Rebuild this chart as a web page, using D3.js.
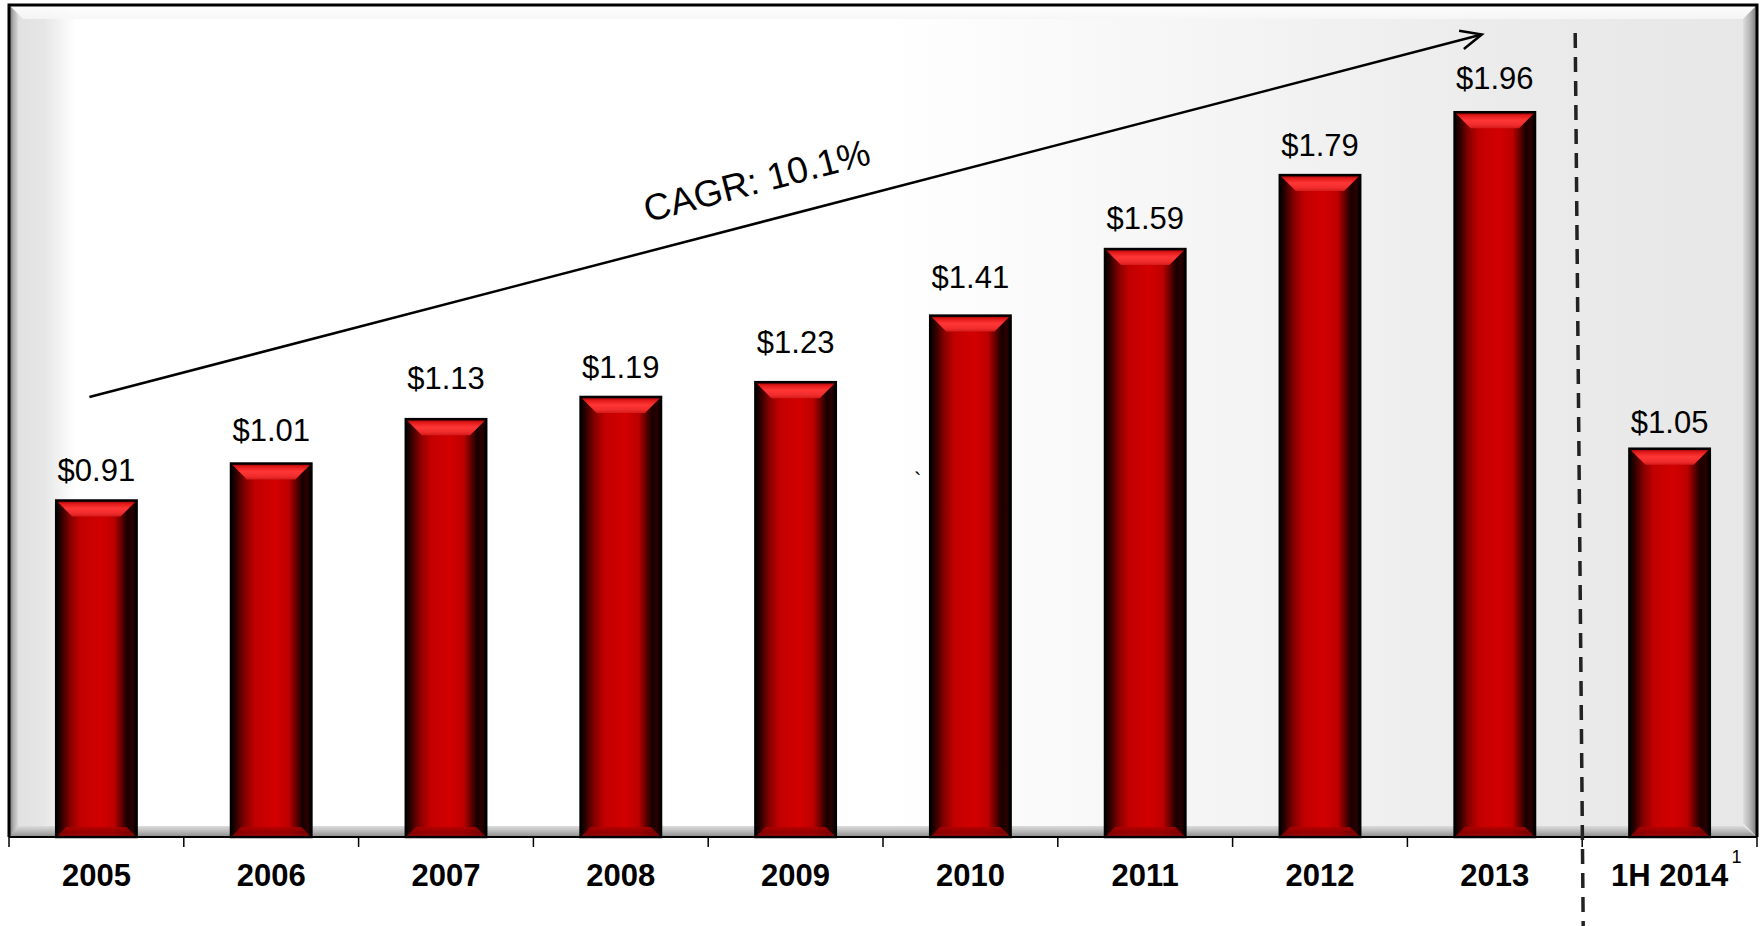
<!DOCTYPE html>
<html>
<head>
<meta charset="utf-8">
<script src="https://cdn.jsdelivr.net/npm/d3@7/dist/d3.min.js"></script>
<style>
  html, body { margin: 0; padding: 0; background: #ffffff; }
  svg { display: block; }
  text { font-family: "Liberation Sans", Arial, sans-serif; fill: #000; }
</style>
</head>
<body>
<div id="chart"></div>
<script>
// Dividends per share, annual plus first half of 2014
const categories = ["2005", "2006", "2007", "2008", "2009", "2010", "2011", "2012", "2013", "1H 2014"];
const values = [0.91, 1.01, 1.13, 1.19, 1.23, 1.41, 1.59, 1.79, 1.96, 1.05];
const valueLabels = ["$0.91", "$1.01", "$1.13", "$1.19", "$1.23", "$1.41", "$1.59", "$1.79", "$1.96", "$1.05"];
const yDomain = [0, 2.25];
const cagrLabel = "CAGR: 10.1%";
const footnoteMark = "1";

// layout: how far each value label sits above its bar (px)
const labelLift = [20, 23, 30, 19, 29, 28, 20, 19, 23, 16];

const W = 1763, H = 926;
const plot = { left: 9, right: 1757, top: 5, bottom: 837 };

const svg = d3.select("#chart").append("svg")
  .attr("width", W).attr("height", H);

const x = d3.scaleBand().domain(categories).range([plot.left, plot.right]).padding(0);
const y = d3.scaleLinear().domain(yDomain).range([plot.bottom, plot.top]);

const defs = svg.append("defs");

function linGrad(id, horizontal, stops) {
  const g = defs.append("linearGradient").attr("id", id)
    .attr("x1", 0).attr("y1", 0)
    .attr("x2", horizontal ? 1 : 0).attr("y2", horizontal ? 0 : 1);
  stops.forEach(([o, c]) => g.append("stop").attr("offset", o).attr("stop-color", c));
  return g;
}

// plot background: grey at the sides, white in the middle
linGrad("bgFill", true, [
  [0, "#e0e0e0"], [0.02, "#e6e6e6"], [0.03, "#f4f4f4"], [0.038, "#ffffff"],
  [0.5, "#ffffff"], [0.72, "#f3f3f3"], [0.86, "#ebebeb"], [1, "#e7e7e7"]
]);
linGrad("bevelTop", false, [[0, "#ffffff"], [1, "#f6f6f6"]]);
linGrad("bevelLeft", true, [[0, "#6e6e6e"], [0.5, "#b0b0b0"], [1, "#d8d8d8"]]);
linGrad("bevelRight", true, [[0, "#dedede"], [0.5, "#b4b4b4"], [1, "#777777"]]);
linGrad("bevelBottom", false, [[0, "#dcdcdc"], [0.5, "#b8b8b8"], [1, "#8c8c8c"]]);

// bar shading
linGrad("barBody", true, [
  [0, "#080000"], [0.06, "#2a0000"], [0.17, "#840000"], [0.3, "#c20000"],
  [0.55, "#d30000"], [0.72, "#bd0000"], [0.82, "#5a0000"], [0.89, "#160000"],
  [0.95, "#2c0000"], [1, "#000000"]
]);
linGrad("barTop", false, [
  [0, "#8a0000"], [0.2, "#e01818"], [0.5, "#ff3636"], [0.8, "#f02c2c"], [1, "#d41a1a"]
]);
linGrad("barBottom", false, [
  [0, "#b00000"], [0.6, "#8a0000"], [1, "#c01010"]
]);

// ---- plot frame with bevelled edges ----
const frame = svg.append("g");
const fw = plot.right - plot.left, fh = plot.bottom - plot.top, bv = 14;
frame.append("rect")
  .attr("x", plot.left).attr("y", plot.top).attr("width", fw).attr("height", fh)
  .attr("fill", "url(#bgFill)");
const L = plot.left, R = plot.right, T = plot.top, B = plot.bottom;
const trap = pts => pts.map(p => p.join(",")).join(" ");
frame.append("polygon").attr("points", trap([[L, T], [R, T], [R - bv, T + bv], [L + bv, T + bv]]))
  .attr("fill", "url(#bevelTop)").attr("opacity", 0.9);
frame.append("polygon").attr("points", trap([[L, T], [L + 9, T + 9], [L + 9, B - 9], [L, B]]))
  .attr("fill", "url(#bevelLeft)");
frame.append("polygon").attr("points", trap([[R, T], [R, B], [R - bv, B - bv], [R - bv, T + bv]]))
  .attr("fill", "url(#bevelRight)");
frame.append("polygon").attr("points", trap([[L, B], [R, B], [R - bv, B - 11], [L + 9, B - 11]]))
  .attr("fill", "url(#bevelBottom)");
frame.append("path")
  .attr("d", `M${L},${B} L${L},${T} L${R},${T} L${R},${B}`)
  .attr("fill", "none").attr("stroke", "#000").attr("stroke-width", 3);

// ---- bars ----
const barW = x.bandwidth() * 0.46;
const bb = 16;
const bars = svg.append("g").selectAll("g").data(categories).join("g");
bars.each(function (c, i) {
  const g = d3.select(this);
  const x0 = x(c) + (x.bandwidth() - barW) / 2, x1 = x0 + barW;
  const y0 = y(values[i]), y1 = y(0);
  g.append("rect").attr("x", x0).attr("y", y0).attr("width", barW).attr("height", y1 - y0)
    .attr("fill", "url(#barBody)");
  g.append("polygon").attr("points", trap([[x0, y0], [x1, y0], [x1 - bb, y0 + bb], [x0 + bb, y0 + bb]]))
    .attr("fill", "url(#barTop)");
  g.append("polygon").attr("points", trap([[x0, y1], [x1, y1], [x1 - 10, y1 - 10], [x0 + 10, y1 - 10]]))
    .attr("fill", "url(#barBottom)").attr("opacity", 0.85);
  g.append("rect").attr("x", x0).attr("y", y0).attr("width", barW).attr("height", y1 - y0)
    .attr("fill", "none").attr("stroke", "#000").attr("stroke-width", 2.5);
  g.append("text")
    .attr("x", x0 + barW / 2).attr("y", y0 - labelLift[i])
    .attr("text-anchor", "middle").attr("font-size", 31)
    .text(valueLabels[i]);
});

// ---- category axis ----
const axisG = svg.append("g");
axisG.append("line")
  .attr("x1", plot.left).attr("x2", plot.right)
  .attr("y1", plot.bottom).attr("y2", plot.bottom)
  .attr("stroke", "#000").attr("stroke-width", 2);
const tickXs = categories.map(c => x(c)).concat([x(categories[categories.length - 1]) + x.bandwidth()]);
axisG.selectAll("line.tick").data(tickXs).join("line").attr("class", "tick")
  .attr("x1", d => d).attr("x2", d => d)
  .attr("y1", plot.bottom).attr("y2", plot.bottom + 10)
  .attr("stroke", "#000").attr("stroke-width", 1.5);
axisG.selectAll("text.cat").data(categories).join("text").attr("class", "cat")
  .attr("x", d => x(d) + x.bandwidth() / 2)
  .attr("y", 886)
  .attr("text-anchor", "middle")
  .attr("font-size", 31).attr("font-weight", "bold")
  .text(d => d);
// footnote marker on the half-year label
const lastCat = categories[categories.length - 1];
svg.append("text")
  .attr("x", x(lastCat) + x.bandwidth() / 2 + 62).attr("y", 863)
  .attr("font-size", 18).text(footnoteMark);

// ---- separator between full years and the half year ----
const sepX = x(lastCat);
svg.append("line")
  .attr("x1", sepX - 7).attr("y1", 33).attr("x2", sepX + 1).attr("y2", H)
  .attr("stroke", "#222").attr("stroke-width", 3.5)
  .attr("stroke-dasharray", "15,9");

// ---- growth arrow and CAGR annotation ----
const a0 = [x(categories[0]) + x.bandwidth() / 2 - 7, y(1.19)];
const a1 = [x(categories[8]) + x.bandwidth() / 2 - 13, y(2.17)];
svg.append("line")
  .attr("x1", a0[0]).attr("y1", a0[1]).attr("x2", a1[0]).attr("y2", a1[1])
  .attr("stroke", "#000").attr("stroke-width", 2.5);
const ang = Math.atan2(a1[1] - a0[1], a1[0] - a0[0]);
const head = 23, spread = 0.42;
const h1 = [a1[0] - head * Math.cos(ang - spread), a1[1] - head * Math.sin(ang - spread)];
const h2 = [a1[0] - head * Math.cos(ang + spread), a1[1] - head * Math.sin(ang + spread)];
svg.append("path")
  .attr("d", `M${h1[0]},${h1[1]} L${a1[0]},${a1[1]} L${h2[0]},${h2[1]}`)
  .attr("fill", "none").attr("stroke", "#000").attr("stroke-width", 2.5);

const deg = ang * 180 / Math.PI;
svg.append("text")
  .attr("transform", `translate(760,193) rotate(${deg})`)
  .attr("text-anchor", "middle")
  .attr("font-size", 37)
  .text(cagrLabel);

// small stray mark left of the 2010 bar
svg.append("text")
  .attr("x", 914).attr("y", 488)
  .attr("font-size", 22).text("`");
</script>
</body>
</html>
